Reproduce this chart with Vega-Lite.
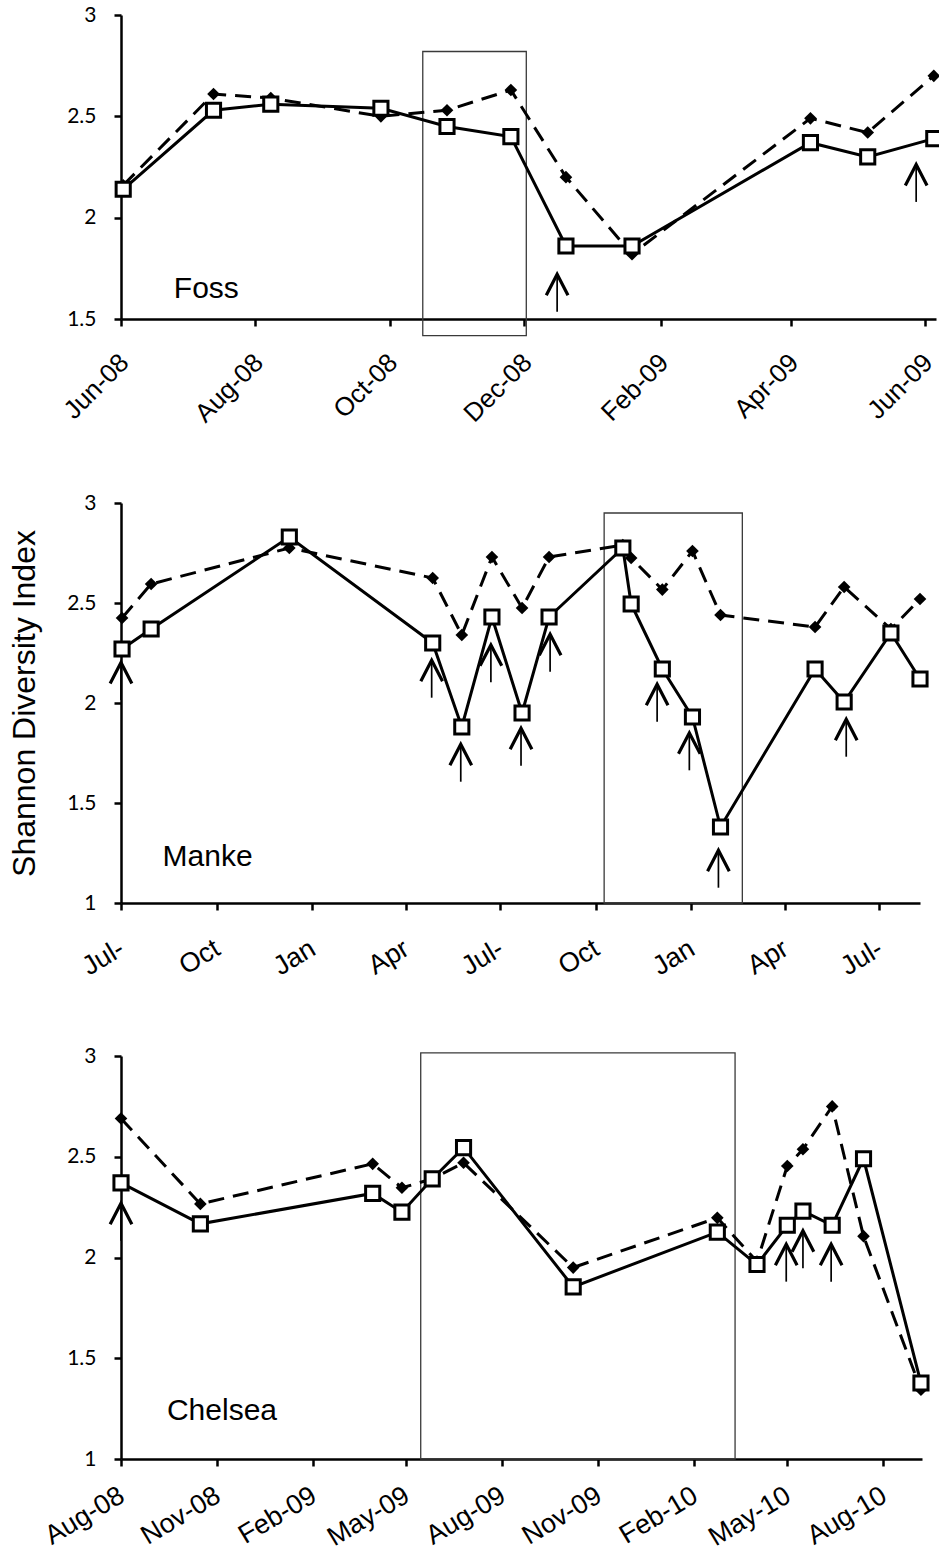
{
  "$schema": "https://vega.github.io/schema/vega-lite/v6.json",
  "background": "white",
  "padding": {"left": 8, "top": 4, "right": 0, "bottom": 0},
  "spacing": 65,
  "datasets": {
    "foss": [
      {"date": "2008-06-02", "series": "solid", "value": 2.14},
      {"date": "2008-07-13", "series": "solid", "value": 2.53},
      {"date": "2008-08-08", "series": "solid", "value": 2.56},
      {"date": "2008-09-27", "series": "solid", "value": 2.54},
      {"date": "2008-10-27", "series": "solid", "value": 2.45},
      {"date": "2008-11-25", "series": "solid", "value": 2.40},
      {"date": "2008-12-20", "series": "solid", "value": 1.86},
      {"date": "2009-01-19", "series": "solid", "value": 1.86},
      {"date": "2009-04-10", "series": "solid", "value": 2.37},
      {"date": "2009-05-06", "series": "solid", "value": 2.30},
      {"date": "2009-06-05", "series": "solid", "value": 2.39},
      {"date": "2008-06-02", "series": "dashed", "value": 2.16},
      {"date": "2008-07-13", "series": "dashed", "value": 2.61},
      {"date": "2008-08-08", "series": "dashed", "value": 2.59},
      {"date": "2008-09-27", "series": "dashed", "value": 2.50},
      {"date": "2008-10-27", "series": "dashed", "value": 2.53},
      {"date": "2008-11-25", "series": "dashed", "value": 2.63},
      {"date": "2008-12-20", "series": "dashed", "value": 2.20},
      {"date": "2009-01-19", "series": "dashed", "value": 1.82},
      {"date": "2009-04-10", "series": "dashed", "value": 2.49},
      {"date": "2009-05-06", "series": "dashed", "value": 2.42},
      {"date": "2009-06-05", "series": "dashed", "value": 2.70}
    ],
    "fossBox": [{"date": "2008-10-16", "end": "2008-12-02", "value": 1.418, "high": 2.82}],
    "fossArrows": [
      {"date": "2008-12-16", "value": 1.628},
      {"date": "2009-05-28", "value": 2.17}
    ],
    "fossLabel": [{"date": "2008-06-25", "value": 1.605, "label": "Foss"}],
    "manke": [
      {"date": "2008-07-02", "series": "solid", "value": 2.27},
      {"date": "2008-07-30", "series": "solid", "value": 2.37},
      {"date": "2008-12-10", "series": "solid", "value": 2.83},
      {"date": "2009-04-27", "series": "solid", "value": 2.30},
      {"date": "2009-05-25", "series": "solid", "value": 1.88},
      {"date": "2009-06-23", "series": "solid", "value": 2.43},
      {"date": "2009-07-22", "series": "solid", "value": 1.95},
      {"date": "2009-08-17", "series": "solid", "value": 2.43},
      {"date": "2009-10-27", "series": "solid", "value": 2.775},
      {"date": "2009-11-04", "series": "solid", "value": 2.495},
      {"date": "2009-12-04", "series": "solid", "value": 2.17},
      {"date": "2010-01-02", "series": "solid", "value": 1.93},
      {"date": "2010-01-29", "series": "solid", "value": 1.38},
      {"date": "2010-04-30", "series": "solid", "value": 2.17},
      {"date": "2010-05-28", "series": "solid", "value": 2.005},
      {"date": "2010-07-12", "series": "solid", "value": 2.35},
      {"date": "2010-08-09", "series": "solid", "value": 2.12},
      {"date": "2008-07-02", "series": "dashed", "value": 2.425},
      {"date": "2008-07-30", "series": "dashed", "value": 2.595},
      {"date": "2008-12-10", "series": "dashed", "value": 2.775},
      {"date": "2009-04-27", "series": "dashed", "value": 2.625},
      {"date": "2009-05-25", "series": "dashed", "value": 2.34},
      {"date": "2009-06-23", "series": "dashed", "value": 2.73},
      {"date": "2009-07-22", "series": "dashed", "value": 2.475},
      {"date": "2009-08-17", "series": "dashed", "value": 2.73},
      {"date": "2009-10-27", "series": "dashed", "value": 2.79},
      {"date": "2009-11-04", "series": "dashed", "value": 2.725},
      {"date": "2009-12-04", "series": "dashed", "value": 2.567},
      {"date": "2010-01-02", "series": "dashed", "value": 2.76},
      {"date": "2010-01-29", "series": "dashed", "value": 2.44},
      {"date": "2010-04-30", "series": "dashed", "value": 2.38},
      {"date": "2010-05-28", "series": "dashed", "value": 2.58},
      {"date": "2010-07-12", "series": "dashed", "value": 2.37},
      {"date": "2010-08-09", "series": "dashed", "value": 2.52}
    ],
    "mankeBox": [{"date": "2009-10-09", "end": "2010-02-19", "value": 1.0, "high": 2.95}],
    "mankeArrows": [
      {"date": "2008-07-01", "value": 2.109},
      {"date": "2009-04-26", "value": 2.12},
      {"date": "2009-05-24", "value": 1.70},
      {"date": "2009-06-22", "value": 2.197},
      {"date": "2009-07-21", "value": 1.78},
      {"date": "2009-08-18", "value": 2.25},
      {"date": "2009-11-29", "value": 2.0},
      {"date": "2009-12-30", "value": 1.757},
      {"date": "2010-01-27", "value": 1.17},
      {"date": "2010-05-30", "value": 1.825}
    ],
    "mankeLabel": [{"date": "2008-08-10", "value": 1.183, "label": "Manke"}],
    "chelsea": [
      {"date": "2008-08-01", "series": "solid", "value": 2.37},
      {"date": "2008-10-16", "series": "solid", "value": 2.167},
      {"date": "2009-03-30", "series": "solid", "value": 2.318},
      {"date": "2009-04-27", "series": "solid", "value": 2.225},
      {"date": "2009-05-26", "series": "solid", "value": 2.39},
      {"date": "2009-06-25", "series": "solid", "value": 2.545},
      {"date": "2009-10-08", "series": "solid", "value": 1.854},
      {"date": "2010-02-23", "series": "solid", "value": 2.126},
      {"date": "2010-04-02", "series": "solid", "value": 1.965},
      {"date": "2010-05-01", "series": "solid", "value": 2.16},
      {"date": "2010-05-16", "series": "solid", "value": 2.23},
      {"date": "2010-06-13", "series": "solid", "value": 2.16},
      {"date": "2010-07-13", "series": "solid", "value": 2.49},
      {"date": "2010-09-06", "series": "solid", "value": 1.377},
      {"date": "2008-08-01", "series": "dashed", "value": 2.69},
      {"date": "2008-10-16", "series": "dashed", "value": 2.266},
      {"date": "2009-03-30", "series": "dashed", "value": 2.465},
      {"date": "2009-04-27", "series": "dashed", "value": 2.346},
      {"date": "2009-05-26", "series": "dashed", "value": 2.39},
      {"date": "2009-06-25", "series": "dashed", "value": 2.47},
      {"date": "2009-10-08", "series": "dashed", "value": 1.95},
      {"date": "2010-02-23", "series": "dashed", "value": 2.197},
      {"date": "2010-04-02", "series": "dashed", "value": 1.98},
      {"date": "2010-05-01", "series": "dashed", "value": 2.454},
      {"date": "2010-05-16", "series": "dashed", "value": 2.537},
      {"date": "2010-06-13", "series": "dashed", "value": 2.75},
      {"date": "2010-07-13", "series": "dashed", "value": 2.106},
      {"date": "2010-09-06", "series": "dashed", "value": 1.344}
    ],
    "chelseaBox": [{"date": "2009-05-15", "end": "2010-03-12", "value": 1.0, "high": 3.016}],
    "chelseaArrows": [
      {"date": "2008-08-01", "value": 2.176},
      {"date": "2010-04-30", "value": 1.973},
      {"date": "2010-05-16", "value": 2.04},
      {"date": "2010-06-12", "value": 1.973}
    ],
    "chelseaLabel": [{"date": "2008-09-14", "value": 1.195, "label": "Chelsea"}]
  },
  "vconcat": [
    {
      "width": 815,
      "height": 304,
      "encoding": {
        "x": {"field": "date", "type": "temporal",
          "scale": {"domain": [{"year": 2008, "month": 6, "date": 1}, {"year": 2009, "month": 6, "date": 6}]},
          "axis": {"title": null, "format": "%b-%y", "labelAngle": -45, "labelPadding": 23, "labelOffset": -6, "labelFontSize": 26,
            "values": [{"year": 2008, "month": 6, "date": 1}, {"year": 2008, "month": 8, "date": 1}, {"year": 2008, "month": 10, "date": 1}, {"year": 2008, "month": 12, "date": 1}, {"year": 2009, "month": 2, "date": 1}, {"year": 2009, "month": 4, "date": 1}, {"year": 2009, "month": 6, "date": 1}]}},
        "y": {"field": "value", "type": "quantitative",
          "scale": {"domain": [1.5, 3], "nice": false, "zero": false},
          "axis": {"title": null, "values": [1.5, 2, 2.5, 3], "format": "~g"}}
      },
      "layer": [
        {"data": {"name": "fossBox"}, "mark": {"type": "rect", "filled": false, "stroke": "#3a3a3a", "strokeWidth": 1.3},
          "encoding": {"x2": {"field": "end"}, "y2": {"field": "high"}}},
        {"data": {"name": "foss"}, "transform": [{"filter": "datum.series === 'dashed'"}],
          "mark": {"type": "line", "color": "black", "strokeWidth": 3, "strokeDash": [16, 9]}},
        {"data": {"name": "foss"}, "transform": [{"filter": "datum.series === 'dashed'"}],
          "mark": {"type": "point", "shape": "diamond", "filled": true, "color": "black", "size": 160, "opacity": 1}},
        {"data": {"name": "foss"}, "transform": [{"filter": "datum.series === 'solid'"}],
          "mark": {"type": "line", "color": "black", "strokeWidth": 3}},
        {"data": {"name": "foss"}, "transform": [{"filter": "datum.series === 'solid'"}],
          "mark": {"type": "point", "shape": "square", "filled": true, "fill": "white", "stroke": "black", "strokeWidth": 3, "size": 200, "opacity": 1}},
        {"data": {"name": "fossArrows"},
          "mark": {"type": "point", "shape": "M0,-1L0,1", "filled": false, "stroke": "black", "strokeWidth": 1.7, "size": 1400, "opacity": 1}},
        {"data": {"name": "fossArrows"},
          "mark": {"type": "point", "shape": "M-0.58,0.12L0,-1L0.58,0.12", "filled": false, "stroke": "black", "strokeWidth": 3.2, "strokeJoin": "miter", "size": 1400, "opacity": 1}},
        {"data": {"name": "fossLabel"},
          "mark": {"type": "text", "align": "left", "baseline": "alphabetic", "font": "Liberation Sans", "fontSize": 30, "color": "black"},
          "encoding": {"text": {"field": "label"}}}
      ]
    },
    {
      "width": 799,
      "height": 400,
      "encoding": {
        "x": {"field": "date", "type": "temporal",
          "scale": {"domain": [{"year": 2008, "month": 7, "date": 1}, {"year": 2010, "month": 8, "date": 9}]},
          "axis": {"title": null, "labelAngle": -31, "labelPadding": 25, "labelOffset": -6,
            "labelExpr": "month(datum.value) == 6 ? 'Jul-' : timeFormat(datum.value, '%b')",
            "values": [{"year": 2008, "month": 7, "date": 1}, {"year": 2008, "month": 10, "date": 1}, {"year": 2009, "month": 1, "date": 1}, {"year": 2009, "month": 4, "date": 1}, {"year": 2009, "month": 7, "date": 1}, {"year": 2009, "month": 10, "date": 1}, {"year": 2010, "month": 1, "date": 1}, {"year": 2010, "month": 4, "date": 1}, {"year": 2010, "month": 7, "date": 1}]}},
        "y": {"field": "value", "type": "quantitative",
          "scale": {"domain": [1, 3], "nice": false, "zero": false},
          "axis": {"title": "Shannon Diversity Index", "values": [1, 1.5, 2, 2.5, 3], "format": "~g"}}
      },
      "layer": [
        {"data": {"name": "mankeBox"}, "mark": {"type": "rect", "filled": false, "stroke": "#3a3a3a", "strokeWidth": 1.3},
          "encoding": {"x2": {"field": "end"}, "y2": {"field": "high"}}},
        {"data": {"name": "manke"}, "transform": [{"filter": "datum.series === 'dashed'"}],
          "mark": {"type": "line", "color": "black", "strokeWidth": 3, "strokeDash": [16, 9]}},
        {"data": {"name": "manke"}, "transform": [{"filter": "datum.series === 'dashed'"}],
          "mark": {"type": "point", "shape": "diamond", "filled": true, "color": "black", "size": 160, "opacity": 1}},
        {"data": {"name": "manke"}, "transform": [{"filter": "datum.series === 'solid'"}],
          "mark": {"type": "line", "color": "black", "strokeWidth": 3}},
        {"data": {"name": "manke"}, "transform": [{"filter": "datum.series === 'solid'"}],
          "mark": {"type": "point", "shape": "square", "filled": true, "fill": "white", "stroke": "black", "strokeWidth": 3, "size": 200, "opacity": 1}},
        {"data": {"name": "mankeArrows"},
          "mark": {"type": "point", "shape": "M0,-1L0,1", "filled": false, "stroke": "black", "strokeWidth": 1.7, "size": 1400, "opacity": 1}},
        {"data": {"name": "mankeArrows"},
          "mark": {"type": "point", "shape": "M-0.58,0.12L0,-1L0.58,0.12", "filled": false, "stroke": "black", "strokeWidth": 3.2, "strokeJoin": "miter", "size": 1400, "opacity": 1}},
        {"data": {"name": "mankeLabel"},
          "mark": {"type": "text", "align": "left", "baseline": "alphabetic", "font": "Liberation Sans", "fontSize": 30, "color": "black"},
          "encoding": {"text": {"field": "label"}}}
      ]
    },
    {
      "width": 801,
      "height": 403,
      "encoding": {
        "x": {"field": "date", "type": "temporal",
          "scale": {"domain": [{"year": 2008, "month": 8, "date": 1}, {"year": 2010, "month": 9, "date": 7}]},
          "axis": {"title": null, "format": "%b-%y", "labelAngle": -31, "labelPadding": 16, "labelOffset": -6,
            "values": [{"year": 2008, "month": 8, "date": 1}, {"year": 2008, "month": 11, "date": 1}, {"year": 2009, "month": 2, "date": 1}, {"year": 2009, "month": 5, "date": 1}, {"year": 2009, "month": 8, "date": 1}, {"year": 2009, "month": 11, "date": 1}, {"year": 2010, "month": 2, "date": 1}, {"year": 2010, "month": 5, "date": 1}, {"year": 2010, "month": 8, "date": 1}]}},
        "y": {"field": "value", "type": "quantitative",
          "scale": {"domain": [1, 3], "nice": false, "zero": false},
          "axis": {"title": null, "values": [1, 1.5, 2, 2.5, 3], "format": "~g"}}
      },
      "layer": [
        {"data": {"name": "chelseaBox"}, "mark": {"type": "rect", "filled": false, "stroke": "#3a3a3a", "strokeWidth": 1.3},
          "encoding": {"x2": {"field": "end"}, "y2": {"field": "high"}}},
        {"data": {"name": "chelsea"}, "transform": [{"filter": "datum.series === 'dashed'"}],
          "mark": {"type": "line", "color": "black", "strokeWidth": 3, "strokeDash": [16, 9]}},
        {"data": {"name": "chelsea"}, "transform": [{"filter": "datum.series === 'dashed'"}],
          "mark": {"type": "point", "shape": "diamond", "filled": true, "color": "black", "size": 160, "opacity": 1}},
        {"data": {"name": "chelsea"}, "transform": [{"filter": "datum.series === 'solid'"}],
          "mark": {"type": "line", "color": "black", "strokeWidth": 3}},
        {"data": {"name": "chelsea"}, "transform": [{"filter": "datum.series === 'solid'"}],
          "mark": {"type": "point", "shape": "square", "filled": true, "fill": "white", "stroke": "black", "strokeWidth": 3, "size": 200, "opacity": 1}},
        {"data": {"name": "chelseaArrows"},
          "mark": {"type": "point", "shape": "M0,-1L0,1", "filled": false, "stroke": "black", "strokeWidth": 1.7, "size": 1400, "opacity": 1}},
        {"data": {"name": "chelseaArrows"},
          "mark": {"type": "point", "shape": "M-0.58,0.12L0,-1L0.58,0.12", "filled": false, "stroke": "black", "strokeWidth": 3.2, "strokeJoin": "miter", "size": 1400, "opacity": 1}},
        {"data": {"name": "chelseaLabel"},
          "mark": {"type": "text", "align": "left", "baseline": "alphabetic", "font": "Liberation Sans", "fontSize": 30, "color": "black"},
          "encoding": {"text": {"field": "label"}}}
      ]
    }
  ],
  "config": {
    "view": {"stroke": null},
    "axis": {"grid": false, "domainColor": "black", "domainWidth": 2.5, "tickColor": "black", "tickWidth": 2.5, "tickSize": 7, "labelColor": "black", "titleColor": "black"},
    "axisX": {"labelFont": "Liberation Sans", "labelFontSize": 27, "labelFlush": false, "labelOverlap": false, "labelBound": false},
    "axisY": {"labelFont": "Lato", "labelFontSize": 21, "labelPadding": 18, "labelFlush": false, "labelOverlap": false, "titleFont": "Liberation Sans", "titleFontSize": 32, "titleFontWeight": "normal", "titlePadding": 25}
  }
}
